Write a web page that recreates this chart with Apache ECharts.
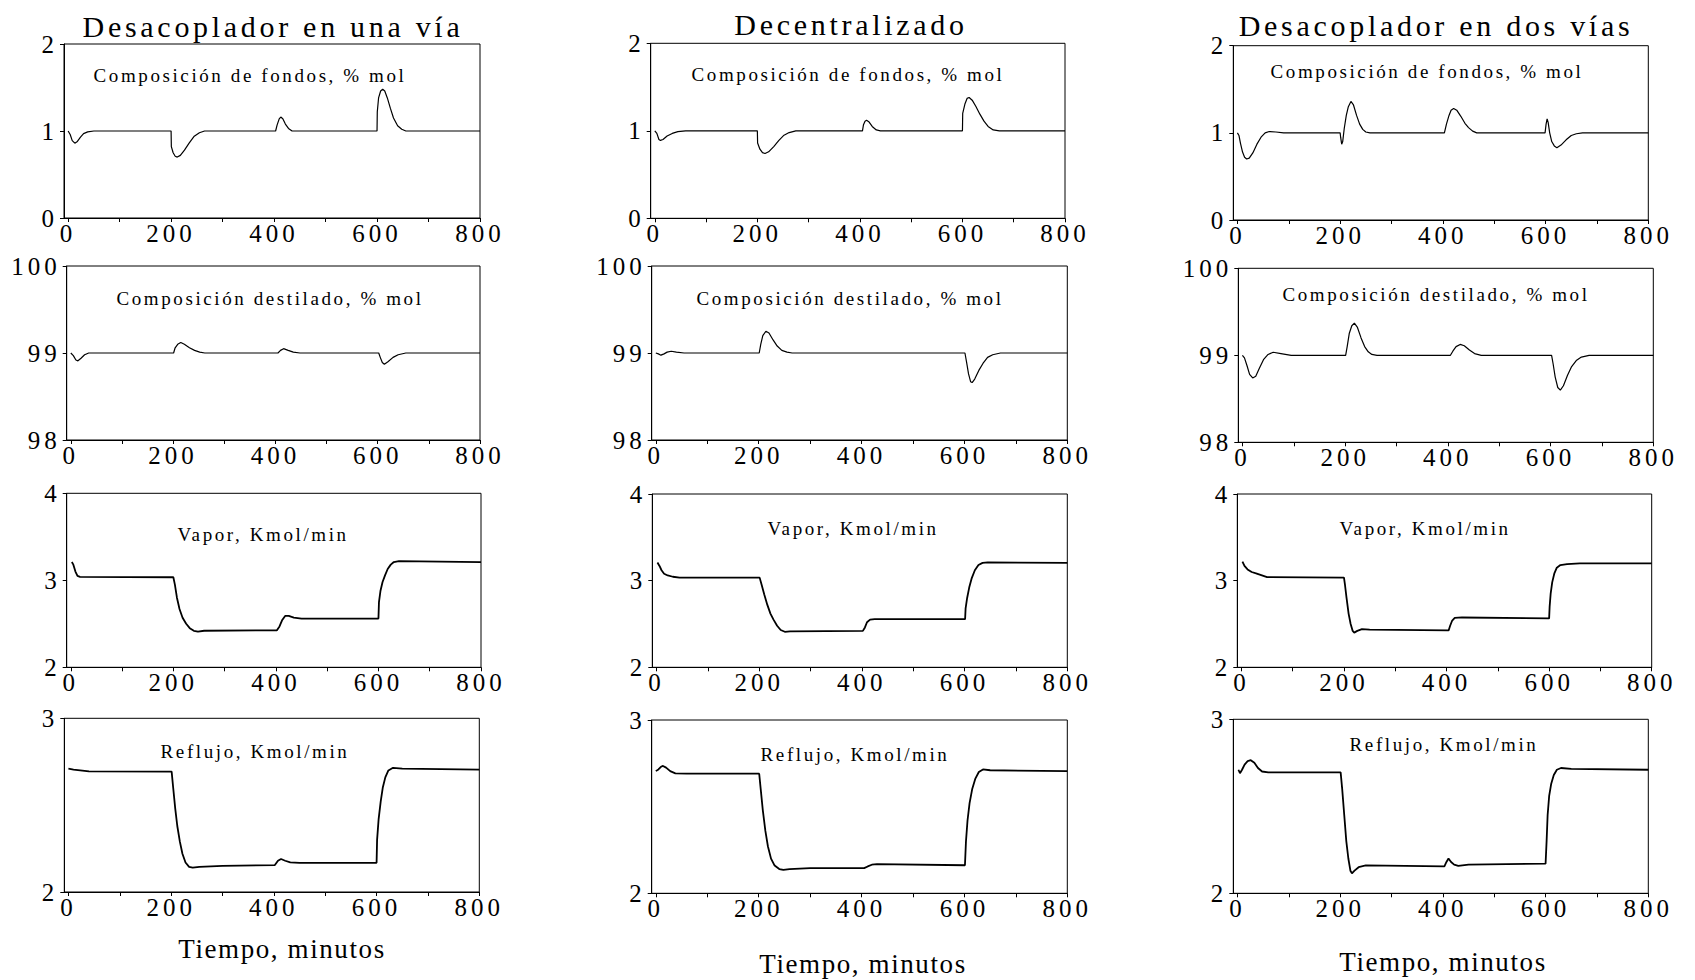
<!DOCTYPE html>
<html>
<head>
<meta charset="utf-8">
<script src="https://cdn.jsdelivr.net/npm/echarts@6/dist/echarts.min.js"></script>
<style>
  html, body { margin: 0; padding: 0; background: #fff; }
  #chart { width: 1695px; height: 980px; }
  /* wide letter spacing of the printed figure, per text size */
  #chart svg text[style*="30px"] { letter-spacing: 3.7px; }
  #chart svg text[style*="25px"] { letter-spacing: 4px; }
  #chart svg text[style*="19px"] { letter-spacing: 2.6px; }
  #chart svg text[style*="27px"] { letter-spacing: 1.6px; }
</style>
</head>
<body>
<div id="chart"></div>
<script>
// ---- data: time (min) vs. response, one array per panel ----
const fondosUnaVia = [[0,1.0],[4,0.96],[8,0.89],[13,0.86],[18,0.88],[24,0.93],[30,0.97],[38,0.99],[50,1.0],[200,1.0],[200.5,0.82],[204,0.75],[208,0.71],[212,0.70],[218,0.72],[226,0.78],[235,0.86],[245,0.94],[255,0.98],[265,1.0],[403,1.0],[406,1.07],[410,1.14],[413,1.16],[417,1.14],[422,1.08],[428,1.03],[435,1.0],[600,1.0],[600.5,1.22],[603,1.38],[607,1.46],[611,1.48],[615,1.46],[620,1.38],[626,1.26],[632,1.15],[640,1.06],[648,1.02],[656,1.0],[800,1.0]];
const destiladoUnaVia = [[0,99.0],[5,98.97],[10,98.92],[14,98.91],[20,98.94],[27,98.98],[35,99.0],[201,99.0],[204,99.06],[209,99.1],[215,99.12],[222,99.1],[232,99.06],[242,99.03],[252,99.01],[262,99.0],[405,99.0],[410,99.03],[416,99.05],[425,99.03],[435,99.01],[448,99.0],[602,99.0],[605,98.95],[609,98.89],[613,98.87],[620,98.9],[630,98.95],[640,98.98],[655,99.0],[800,99.0]];
const vaporUnaVia = [[2,3.21],[5,3.18],[9,3.1],[13,3.05],[18,3.04],[200,3.035],[203,2.95],[207,2.8],[212,2.67],[218,2.57],[225,2.5],[232,2.45],[240,2.42],[248,2.41],[260,2.42],[402,2.425],[407,2.47],[412,2.54],[418,2.59],[425,2.59],[435,2.57],[450,2.56],[600,2.56],[601,2.75],[604,2.88],[608,2.98],[613,3.06],[618,3.13],[624,3.18],[630,3.21],[640,3.22],[800,3.21]];
const reflujoUnaVia = [[0,2.71],[10,2.705],[40,2.695],[201,2.693],[204,2.6],[208,2.48],[212,2.38],[217,2.29],[222,2.22],[228,2.17],[235,2.145],[242,2.14],[255,2.145],[300,2.15],[402,2.155],[408,2.18],[414,2.19],[422,2.18],[432,2.17],[450,2.168],[600,2.168],[601,2.3],[604,2.42],[608,2.52],[612,2.6],[617,2.66],[623,2.7],[632,2.715],[650,2.71],[800,2.705]];

const fondosDecentralizado = [[0,1.0],[4,0.97],[8,0.9],[11,0.89],[16,0.9],[24,0.94],[34,0.97],[45,0.99],[60,1.0],[200,1.0],[200.5,0.86],[205,0.79],[210,0.75],[215,0.74],[222,0.76],[232,0.82],[242,0.89],[252,0.95],[262,0.98],[275,1.0],[405,1.0],[407,1.07],[410,1.11],[413,1.12],[418,1.1],[424,1.05],[432,1.01],[440,1.0],[600,1.0],[600.5,1.2],[605,1.31],[609,1.37],[613,1.38],[619,1.35],[626,1.28],[634,1.19],[642,1.11],[650,1.05],[660,1.01],[672,1.0],[800,1.0]];
const destiladoDecentralizado = [[0,99.0],[5,98.99],[10,98.975],[16,98.99],[22,99.01],[30,99.02],[40,99.01],[55,99.0],[201,99.0],[204,99.1],[208,99.2],[214,99.25],[220,99.23],[228,99.15],[236,99.08],[245,99.03],[255,99.01],[265,99.0],[601,99.0],[604,98.9],[608,98.76],[612,98.67],[615,98.66],[620,98.7],[628,98.8],[636,98.88],[645,98.95],[655,98.98],[670,99.0],[800,99.0]];
const vaporDecentralizado = [[2,3.21],[6,3.17],[10,3.12],[15,3.08],[22,3.06],[32,3.045],[45,3.035],[201,3.035],[205,2.95],[210,2.84],[216,2.72],[222,2.62],[228,2.55],[235,2.48],[242,2.43],[250,2.41],[260,2.415],[402,2.42],[406,2.46],[410,2.52],[416,2.55],[425,2.555],[601,2.555],[602,2.68],[605,2.8],[609,2.92],[614,3.03],[620,3.12],[627,3.18],[635,3.205],[645,3.21],[800,3.205]];
const reflujoDecentralizado = [[0,2.705],[5,2.715],[10,2.73],[14,2.735],[20,2.725],[28,2.705],[38,2.692],[60,2.69],[201,2.69],[204,2.6],[208,2.48],[213,2.36],[218,2.27],[224,2.2],[231,2.16],[240,2.14],[248,2.135],[260,2.14],[300,2.145],[405,2.145],[412,2.155],[420,2.165],[430,2.168],[601,2.162],[603,2.3],[606,2.42],[610,2.52],[615,2.6],[621,2.66],[628,2.7],[636,2.715],[650,2.71],[800,2.705]];

const fondosDosVias = [[0,1.0],[3,0.97],[6,0.88],[10,0.78],[14,0.72],[18,0.70],[23,0.71],[30,0.77],[38,0.87],[46,0.95],[54,1.0],[62,1.015],[75,1.01],[90,1.0],[200,1.0],[201,0.95],[203,0.87],[205,0.9],[208,1.05],[212,1.2],[216,1.3],[221,1.36],[226,1.32],[232,1.2],[238,1.1],[244,1.04],[250,1.01],[258,1.0],[403,1.0],[407,1.1],[412,1.2],[416,1.26],[421,1.28],[427,1.26],[435,1.19],[443,1.11],[450,1.06],[458,1.02],[466,1.0],[599,1.0],[601,1.1],[603,1.16],[605,1.12],[608,1.0],[612,0.9],[617,0.85],[622,0.83],[630,0.86],[640,0.92],[650,0.97],[660,0.99],[672,1.0],[800,1.0]];
const destiladoDosVias = [[0,99.0],[4,98.97],[9,98.88],[14,98.78],[20,98.74],[26,98.76],[33,98.85],[41,98.95],[50,99.01],[60,99.035],[75,99.02],[95,99.0],[201,99.0],[204,99.1],[208,99.25],[213,99.34],[218,99.37],[224,99.32],[231,99.2],[238,99.1],[245,99.04],[252,99.01],[262,99.0],[405,99.0],[410,99.05],[416,99.1],[424,99.125],[432,99.11],[442,99.06],[452,99.02],[465,99.0],[602,99.0],[605,98.9],[609,98.75],[614,98.63],[619,98.6],[625,98.65],[633,98.77],[641,98.87],[650,98.94],[660,98.98],[675,99.0],[800,99.0]];
const vaporDosVias = [[2,3.22],[6,3.17],[12,3.13],[20,3.1],[30,3.08],[40,3.06],[50,3.04],[200,3.035],[202,2.95],[205,2.8],[209,2.62],[213,2.5],[217,2.42],[220,2.4],[226,2.42],[235,2.44],[250,2.435],[404,2.425],[407,2.48],[411,2.54],[416,2.57],[430,2.575],[600,2.565],[601,2.7],[603,2.85],[606,2.98],[610,3.08],[615,3.15],[622,3.18],[635,3.19],[660,3.2],[800,3.2]];
const reflujoDosVias = [[2,2.71],[5,2.69],[9,2.71],[14,2.74],[20,2.76],[26,2.765],[33,2.75],[40,2.72],[48,2.7],[60,2.695],[201,2.695],[204,2.6],[208,2.45],[212,2.3],[216,2.2],[220,2.13],[223,2.115],[228,2.13],[236,2.15],[250,2.16],[403,2.155],[407,2.18],[411,2.2],[416,2.18],[422,2.165],[430,2.158],[450,2.165],[600,2.17],[602,2.3],[604,2.45],[607,2.56],[611,2.63],[616,2.68],[622,2.71],[630,2.72],[650,2.715],[800,2.71]];

// ---- texts and axis values ----
const columnTitles = ['Desacoplador en una vía', 'Decentralizado', 'Desacoplador en dos vías'];
const rowLabels = ['Composición de fondos, % mol', 'Composición destilado, % mol', 'Vapor, Kmol/min', 'Reflujo, Kmol/min'];
const xTitle = 'Tiempo, minutos';
const xTickLabels = [0, 200, 400, 600, 800];
const xTickMarks = [0, 100, 200, 300, 400, 500, 600, 700, 800];
const rowRanges = [[0, 2], [98, 100], [2, 4], [2, 3]];

const panelData = [
  [fondosUnaVia, destiladoUnaVia, vaporUnaVia, reflujoUnaVia],
  [fondosDecentralizado, destiladoDecentralizado, vaporDecentralizado, reflujoDecentralizado],
  [fondosDosVias, destiladoDosVias, vaporDosVias, reflujoDosVias]
];

// ---- layout (px): plot frames [left, top, right, bottom] by column, then row ----
const frames = [
  [[64, 44, 480, 218], [66.7, 266, 480, 440], [66.7, 493.3, 481, 667.3], [64.3, 718.3, 479.3, 892]],
  [[650.7, 43.3, 1065, 218.3], [651.7, 266, 1067.3, 440], [652.3, 494, 1067.3, 667.3], [651.7, 720, 1067.3, 893.3]],
  [[1233.3, 45.7, 1648.3, 220], [1238.3, 268.3, 1653.3, 442.3], [1237.3, 494, 1651.7, 667.3], [1233.3, 719.3, 1648.3, 893.3]]
];
const labelPos = [
  [[250, 75], [270, 298], [263, 534], [255, 751]],
  [[848, 74], [850, 298], [853, 528], [855, 754]],
  [[1427, 71], [1436, 294], [1425, 528], [1444, 744]]
];
const titlePos = [[273, 26], [851, 24], [1436, 25]];
const xTitlePos = [[282, 949], [863, 964], [1443, 962]];

const FONT = '"Liberation Serif", "Times New Roman", Times, serif';

const grid = [], xAxis = [], yAxis = [], series = [], graphic = [];
let idx = 0;
for (let c = 0; c < 3; c++) {
  for (let r = 0; r < 4; r++) {
    const [l, t, rr, b] = frames[c][r];
    grid.push({
      left: l, top: t, width: rr - l, height: b - t,
      containLabel: false, outerBoundsMode: 'none',
      show: true, borderColor: '#000', borderWidth: 1, backgroundColor: 'transparent'
    });
    xAxis.push({
      type: 'value', gridIndex: idx, min: -8, max: 800,
      axisLine: { show: true, onZero: false, lineStyle: { color: '#000', width: 1 } },
      axisTick: { show: true, customValues: xTickMarks, length: 4, lineStyle: { color: '#000' } },
      axisLabel: {
        customValues: xTickLabels, margin: 3, color: '#000',
        fontFamily: FONT, fontSize: 25
      },
      splitLine: { show: false }
    });
    const [ymin, ymax] = rowRanges[r];
    yAxis.push({
      type: 'value', gridIndex: idx, min: ymin, max: ymax, interval: 1,
      axisLine: { show: true, onZero: false, lineStyle: { color: '#000', width: 1 } },
      axisTick: { show: true, length: 4, lineStyle: { color: '#000' } },
      axisLabel: { margin: 6, color: '#000', fontFamily: FONT, fontSize: 25 },
      splitLine: { show: false }
    });
    series.push({
      type: 'line', xAxisIndex: idx, yAxisIndex: idx,
      data: panelData[c][r], showSymbol: false, silent: true,
      lineStyle: { color: '#000', width: r < 2 ? 1.2 : 1.8 }
    });
    graphic.push({
      type: 'text', x: labelPos[c][r][0], y: labelPos[c][r][1],
      style: { text: rowLabels[r], fill: '#000', font: '19px ' + FONT, align: 'center', verticalAlign: 'middle' }
    });
    idx++;
  }
  graphic.push({
    type: 'text', x: titlePos[c][0], y: titlePos[c][1],
    style: { text: columnTitles[c], fill: '#000', font: '30px ' + FONT, align: 'center', verticalAlign: 'middle' }
  });
  graphic.push({
    type: 'text', x: xTitlePos[c][0], y: xTitlePos[c][1],
    style: { text: xTitle, fill: '#000', font: '27px ' + FONT, align: 'center', verticalAlign: 'middle' }
  });
}

const chart = echarts.init(document.getElementById('chart'), null, { renderer: 'svg', width: 1695, height: 980 });
chart.setOption({
  backgroundColor: '#fff',
  animation: false,
  grid, xAxis, yAxis, series, graphic
});
</script>
</body>
</html>
